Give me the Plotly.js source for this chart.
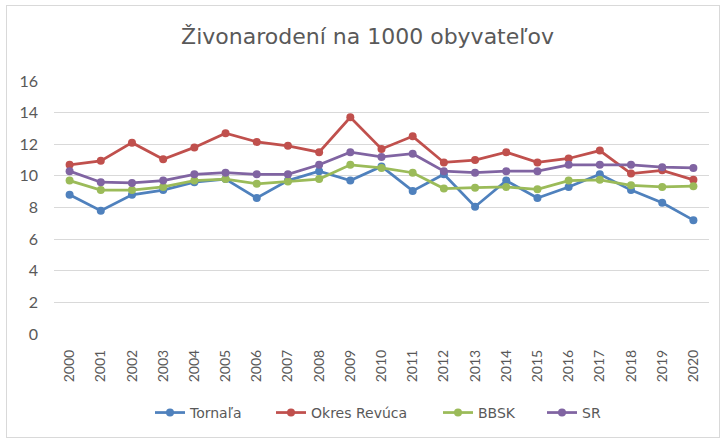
<!DOCTYPE html>
<html>
<head>
<meta charset="utf-8">
<script src="https://cdn.plot.ly/plotly-3.0.1.min.js"></script>
<style>
html,body{margin:0;padding:0;background:#fff;}
#wrap{position:relative;width:725px;height:441px;}
#chart{width:725px;height:441px;}
#frame{position:absolute;left:6px;top:5px;width:712px;height:431px;border:1px solid #d9d9d9;pointer-events:none;}
</style>
</head>
<body>
<div id="wrap"><div id="chart"></div><div id="frame"></div></div>
<script>
const years = ['2000','2001','2002','2003','2004','2005','2006','2007','2008','2009','2010','2011','2012','2013','2014','2015','2016','2017','2018','2019','2020'];
const tornala = [8.8,7.8,8.8,9.1,9.6,9.8,8.6,9.7,10.3,9.7,10.6,9.05,10.1,8.05,9.7,8.6,9.3,10.1,9.1,8.3,7.2];
const revuca  = [10.7,10.95,12.1,11.05,11.8,12.7,12.15,11.9,11.5,13.7,11.7,12.5,10.85,11.0,11.5,10.85,11.1,11.6,10.15,10.35,9.75];
const bbsk    = [9.7,9.1,9.1,9.3,9.7,9.8,9.5,9.65,9.8,10.7,10.5,10.2,9.2,9.25,9.3,9.15,9.7,9.75,9.4,9.3,9.35];
const sr      = [10.3,9.6,9.55,9.7,10.1,10.2,10.1,10.1,10.7,11.5,11.2,11.4,10.3,10.2,10.3,10.3,10.7,10.7,10.7,10.55,10.5];
const names   = ['Tornaľa','Okres Revúca','BBSK','SR'];
const colors  = ['#4F81BD','#C0504D','#9BBB59','#8064A2'];
const series  = [tornala, revuca, bbsk, sr];

const legendIds = ['legend','legend2','legend3','legend4'];
const traces = series.map((s,i)=>({
  x: years, y: s, name: names[i], type:'scatter', mode:'lines+markers',
  line:{color:colors[i], width:2.75},
  marker:{color:colors[i], size:8, symbol:'circle'},
  legend: legendIds[i]
}));

const wide = "'DejaVu Sans', Verdana, sans-serif";
const narrow = "Lato, 'Liberation Sans', sans-serif";
const L = 54, R = 16, PW = 725 - L - R;
const legendPx = [150, 271, 438, 542];
const layout = {
  width:725, height:441,
  margin:{l:L, r:R, t:81, b:107},
  paper_bgcolor:'#fff', plot_bgcolor:'#fff',
  font:{family:narrow, color:'#595959', size:12},
  title:{text:'Živonarodení na 1000 obyvateľov', x:0.507, xanchor:'center', y:1-36/441, yref:'container', yanchor:'middle',
         font:{family:wide, size:22, color:'#595959'}},
  xaxis:{type:'category', range:[-0.5,20.5], tickangle:-90, showgrid:false, zeroline:false, showline:false,
         ticks:'', tickfont:{family:narrow, size:14, color:'#595959'}, ticklabelstandoff:12, fixedrange:true},
  yaxis:{range:[0,16], dtick:2, tick0:0, showgrid:true, gridcolor:'#d9d9d9', gridwidth:1, zeroline:false, showline:false,
         ticks:'', tickfont:{family:narrow, size:16, color:'#595959'}, ticklabelstandoff:15, fixedrange:true},
  showlegend:true
};
legendIds.forEach((id,i)=>{
  layout[id] = {orientation:'h', x:(legendPx[i]-L)/PW, xanchor:'left', y:-0.312, yanchor:'middle',
                font:{family:wide, size:14, color:'#595959'}, bgcolor:'rgba(0,0,0,0)'};
});
Plotly.newPlot('chart', traces, layout, {displayModeBar:false, staticPlot:true});
</script>
</body>
</html>
